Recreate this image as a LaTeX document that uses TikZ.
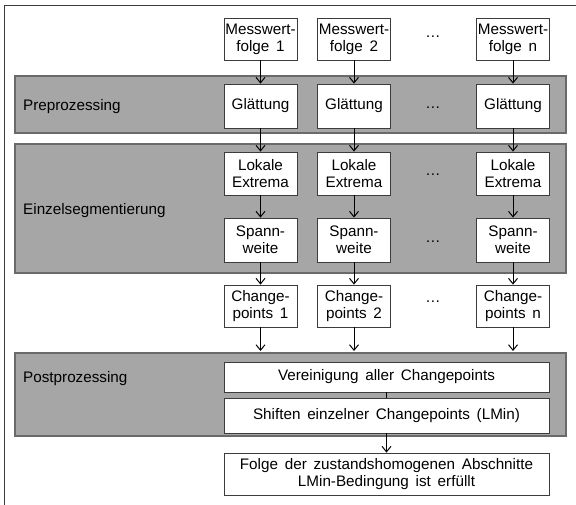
\documentclass[tikz,border=0pt]{standalone}
\usepackage{fontspec}
\setmainfont[WordSpace=1.6]{Liberation Sans}
\usetikzlibrary{arrows.meta}
\definecolor{bandfill}{HTML}{A6A6A6}
\definecolor{bandline}{HTML}{6A6A6A}
\definecolor{boxline}{HTML}{3C3C3C}
\begin{document}
\begin{tikzpicture}[x=1bp,y=-1bp,
  font=\fontsize{15.3}{17}\selectfont,
  band/.style={fill=bandfill,draw=bandline,line width=1.2bp},
  stepbox/.style={draw=boxline,fill=white,line width=0.8bp,minimum width=73bp,inner sep=0pt,align=center},
  widebox/.style={draw=boxline,fill=white,line width=0.8bp,minimum width=325bp,inner sep=0pt,align=center},
  bandlabel/.style={anchor=base west,inner sep=0pt},
  flow/.style={draw=black,line width=1bp,-{Straight Barb[length=5.5bp,width=9bp]}},
  dotsnode/.style={inner sep=0pt}]
\useasboundingbox (0,0) rectangle (576,505);
% outer frame
\draw[boxline,line width=1bp] (4,505) -- (4,6) -- (576,6);
% processing bands
\draw[band] (15,76) rectangle (566,133);
\draw[band] (15,144) rectangle (566,273);
\draw[band] (15,353) rectangle (566,436);
\node[bandlabel] (lpre) at (23,111) {Preprozessing};
\node[bandlabel] (lseg) at (23,215) {Einzelsegmentierung};
\node[bandlabel] (lpost) at (23,382) {Postprozessing};
% column 1
\node[stepbox,minimum height=42bp] (m1) at (260.5,39) {Messwert-\\folge 1};
\node[stepbox,minimum height=44bp] (g1) at (260.5,106) {Glättung};
\node[stepbox,minimum height=43bp] (l1) at (260.5,173.5) {Lokale\\Extrema};
\node[stepbox,minimum height=44bp] (s1) at (260.5,240) {Spann-\\weite};
\node[stepbox,minimum height=42bp] (c1) at (260.5,306) {Change-\\points 1};
% column 2
\node[stepbox,minimum height=42bp] (m2) at (354,39) {Messwert-\\folge 2};
\node[stepbox,minimum height=44bp] (g2) at (354,106) {Glättung};
\node[stepbox,minimum height=43bp] (l2) at (354,173.5) {Lokale\\Extrema};
\node[stepbox,minimum height=44bp] (s2) at (354,240) {Spann-\\weite};
\node[stepbox,minimum height=42bp] (c2) at (354,306) {Change-\\points 2};
% column n
\node[stepbox,minimum height=42bp] (mn) at (513,39) {Messwert-\\folge n};
\node[stepbox,minimum height=44bp] (gn) at (513,106) {Glättung};
\node[stepbox,minimum height=43bp] (ln) at (513,173.5) {Lokale\\Extrema};
\node[stepbox,minimum height=44bp] (sn) at (513,240) {Spann-\\weite};
\node[stepbox,minimum height=42bp] (cn) at (513,306) {Change-\\points n};
% ellipses between columns
\node[dotsnode] (dm) at (433,37) {\dots};
\node[dotsnode] (dg) at (433,108) {\dots};
\node[dotsnode] (dl) at (433,175) {\dots};
\node[dotsnode] (ds) at (433,242) {\dots};
\node[dotsnode] (dc) at (433,302) {\dots};
% post-processing steps and result
\node[widebox,minimum height=30bp] (ver) at (386.5,377) {Vereinigung aller Changepoints};
\node[widebox,minimum height=35bp] (shift) at (386.5,415.5) {Shiften einzelner Changepoints (LMin)};
\node[widebox,minimum height=42bp] (res) at (386.5,474) {Folge der zustandshomogenen Abschnitte\\LMin-Bedingung ist erfüllt};
\coordinate (e1) at (260.5,351);
\coordinate (e2) at (354,351);
\coordinate (en) at (513,351);
% connectors
\foreach \c in {1,2,n}{
  \draw[flow] (m\c) -- (g\c);
  \draw[flow] (g\c) -- (l\c);
  \draw[flow] (l\c) -- (s\c);
  \draw[flow] (s\c) -- (c\c);
  \draw[flow] (c\c) -- (e\c);
}
\draw[draw=black,line width=1bp] (ver) -- (shift);
\draw[flow] (shift) -- (res);
\end{tikzpicture}
\end{document}
